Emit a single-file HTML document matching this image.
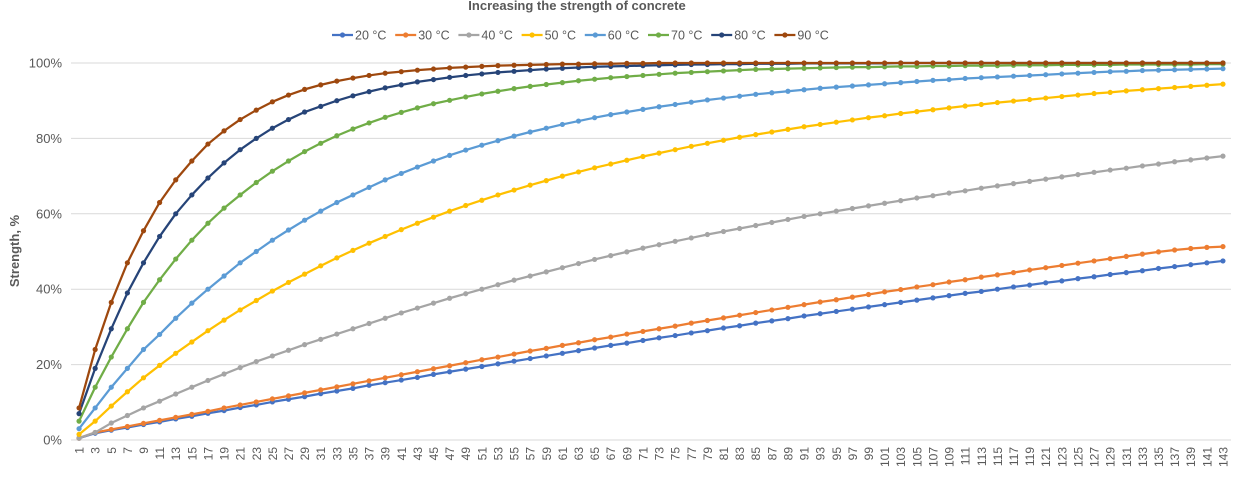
<!DOCTYPE html>
<html><head><meta charset="utf-8"><style>
body{margin:0;background:#fff;}
svg{display:block;font-family:"Liberation Sans",Arial,sans-serif;}
</style></head><body>
<svg id="chart" width="1235" height="477" viewBox="0 0 1235 477" xmlns="http://www.w3.org/2000/svg">
<text x="577" y="10" text-anchor="middle" font-size="13" font-weight="bold" fill="#595959">Increasing the strength of concrete</text>
<text transform="translate(19,251) rotate(-90)" text-anchor="middle" font-size="13" font-weight="bold" fill="#595959">Strength, %</text>
<g id="grid"></g><g id="yticks"></g><g id="xticks"></g><g id="series"></g><g id="legend"></g>
</svg>
<script>
const categories = [];
for (let t = 1; t <= 143; t += 2) categories.push(t);
const seriesNames = ["20 °C","30 °C","40 °C","50 °C","60 °C","70 °C","80 °C","90 °C"];
const seriesColors = ["#4472C4","#ED7D31","#A5A5A5","#FFC000","#5B9BD5","#70AD47","#264478","#9E480E"];
const yTicks = [0,20,40,60,80,100];
const s20 = [0.5,1.8,2.6,3.3,4.1,4.8,5.6,6.3,7.1,7.8,8.6,9.3,10.1,10.8,11.5,12.3,13,13.7,14.5,15.2,15.9,16.6,17.4,18.1,18.8,19.5,20.2,20.9,21.6,22.3,23,23.7,24.4,25.1,25.7,26.4,27.1,27.7,28.4,29,29.7,30.3,31,31.6,32.2,32.9,33.5,34.1,34.7,35.3,35.9,36.5,37.1,37.7,38.3,38.9,39.4,40,40.6,41.1,41.7,42.2,42.8,43.3,43.9,44.4,44.9,45.5,46,46.5,47,47.5];
const s30 = [0.5,2,2.8,3.6,4.4,5.2,6,6.8,7.6,8.5,9.3,10.1,10.9,11.7,12.5,13.3,14.1,14.9,15.7,16.5,17.3,18.1,18.9,19.7,20.5,21.3,22,22.8,23.6,24.3,25.1,25.8,26.6,27.3,28.1,28.8,29.5,30.2,31,31.7,32.4,33.1,33.8,34.5,35.2,35.9,36.6,37.2,37.9,38.6,39.3,39.9,40.6,41.2,41.9,42.5,43.2,43.8,44.4,45.1,45.7,46.3,46.9,47.5,48.1,48.7,49.3,49.9,50.4,50.8,51.1,51.3];
const s40 = [0.5,2,4.5,6.5,8.5,10.3,12.2,14,15.8,17.5,19.2,20.8,22.3,23.8,25.3,26.7,28.1,29.5,30.9,32.3,33.7,35,36.3,37.6,38.8,40,41.2,42.4,43.5,44.6,45.7,46.8,47.9,48.9,49.9,50.9,51.8,52.7,53.6,54.5,55.3,56.1,56.9,57.7,58.5,59.3,60,60.7,61.4,62.1,62.8,63.5,64.2,64.8,65.5,66.1,66.8,67.4,68,68.6,69.2,69.8,70.4,71,71.6,72.1,72.7,73.2,73.8,74.3,74.8,75.3];
const s50 = [1.5,5,9,12.8,16.5,19.8,23,26,29,31.8,34.5,37,39.5,41.8,44,46.2,48.3,50.3,52.2,54,55.8,57.5,59.1,60.7,62.2,63.6,65,66.3,67.6,68.8,70,71.1,72.2,73.2,74.2,75.2,76.1,77,77.9,78.7,79.5,80.3,81,81.7,82.4,83.1,83.7,84.3,84.9,85.5,86,86.6,87.1,87.6,88.1,88.6,89,89.5,89.9,90.3,90.7,91.1,91.5,91.9,92.2,92.6,92.9,93.2,93.5,93.8,94.1,94.4];
const s60 = [3,8.5,14,19,24,28,32.3,36.3,40,43.5,47,50,53,55.7,58.3,60.7,63,65,67,69,70.7,72.4,74,75.5,76.9,78.2,79.4,80.6,81.7,82.7,83.7,84.6,85.5,86.3,87,87.7,88.4,89,89.6,90.2,90.7,91.2,91.7,92.1,92.5,92.9,93.3,93.6,93.9,94.2,94.5,94.8,95.1,95.4,95.6,95.9,96.1,96.3,96.5,96.7,96.9,97.1,97.3,97.5,97.7,97.8,98,98.1,98.2,98.3,98.4,98.5];
const s70 = [5,14,22,29.5,36.5,42.5,48,53,57.5,61.5,65,68.3,71.3,74,76.5,78.7,80.7,82.5,84.1,85.6,86.9,88.1,89.2,90.1,91,91.8,92.5,93.2,93.8,94.3,94.8,95.3,95.7,96.1,96.4,96.7,97,97.3,97.5,97.7,97.9,98.1,98.3,98.4,98.5,98.6,98.7,98.8,98.9,98.9,99,99.1,99.1,99.2,99.2,99.3,99.3,99.3,99.4,99.4,99.4,99.5,99.5,99.5,99.5,99.6,99.6,99.6,99.6,99.6,99.7,99.7];
const s80 = [7,19,29.5,39,47,54,60,65,69.5,73.5,77,80,82.7,85,87,88.5,90,91.3,92.4,93.4,94.2,95,95.6,96.2,96.7,97.1,97.5,97.8,98.1,98.4,98.6,98.8,99,99.1,99.2,99.3,99.4,99.5,99.6,99.6,99.7,99.7,99.8,99.8,99.8,99.9,99.9,99.9,99.9,99.9,99.9,100,100,100,100,100,100,100,100,100,100,100,100,100,100,100,100,100,100,100,100,100];
const s90 = [8.5,24,36.5,47,55.5,63,69,74,78.5,82,85,87.5,89.7,91.5,93,94.2,95.2,96,96.7,97.3,97.7,98.1,98.4,98.7,98.9,99.1,99.3,99.4,99.5,99.6,99.7,99.7,99.8,99.8,99.9,99.9,100,100,100,100,100,100,100,100,100,100,100,100,100,100,100,100,100,100,100,100,100,100,100,100,100,100,100,100,100,100,100,100,100,100,100,100];
const allSeries = [s20,s30,s40,s50,s60,s70,s80,s90];

const NS = "http://www.w3.org/2000/svg";
const plotL = 71, plotR = 1231, plotT = 63, plotB = 440;
const step = (plotR - plotL) / categories.length;
function xScale(i){ return plotL + step * (i + 0.5); }
function yScale(v){ return plotB - (v / 100) * (plotB - plotT); }
function mk(tag, attrs, parent){ const e = document.createElementNS(NS, tag); for (const k in attrs) e.setAttribute(k, attrs[k]); parent.appendChild(e); return e; }

const grid = document.getElementById("grid"), yt = document.getElementById("yticks"), xt = document.getElementById("xticks");
yTicks.forEach(v => {
  const y = yScale(v);
  const g = mk("line", {x1: plotL, x2: plotR, y1: y, y2: y, stroke: "#d9d9d9", "stroke-width": 1}, grid);
  
  
  const t = mk("text", {x: 62, y: y + 4.5, "text-anchor": "end", "font-size": 13, fill: "#595959"}, yt);
  t.textContent = v + "%";
  
  
});
categories.forEach((c, i) => {
  const x = xScale(i);
  const t = mk("text", {transform: `translate(${x + 4.5},447) rotate(-90)`, "text-anchor": "end", "font-size": 12, fill: "#595959"}, xt);
  t.textContent = c;
  
  
});

const sg = document.getElementById("series");
allSeries.forEach((data, si) => {
  const g = mk("g", {}, sg);
  
  
  const pts = data.map((v, i) => xScale(i).toFixed(2) + "," + yScale(v).toFixed(2)).join(" ");
  const pl = mk("polyline", {points: pts, fill: "none", stroke: seriesColors[si], "stroke-width": 2.25, "stroke-linejoin": "round"}, g);
  
  
  data.forEach((v, i) => {
    const c = mk("circle", {cx: xScale(i), cy: yScale(v), r: 2.6, fill: seriesColors[si]}, g);
    
    
  });
});

const lg = document.getElementById("legend");
seriesNames.forEach((n, i) => {
  const x0 = 332 + i * 63.2;
  const g = mk("g", {}, lg);
  
  
  mk("line", {x1: x0, x2: x0 + 21, y1: 35, y2: 35, stroke: seriesColors[i], "stroke-width": 2.25}, g);
  mk("circle", {cx: x0 + 10.5, cy: 35, r: 2.6, fill: seriesColors[i]}, g);
  const t = mk("text", {x: x0 + 23, y: 39.5, "font-size": 12.5, fill: "#595959"}, g);
  t.textContent = n;
});
</script>
</body></html>
